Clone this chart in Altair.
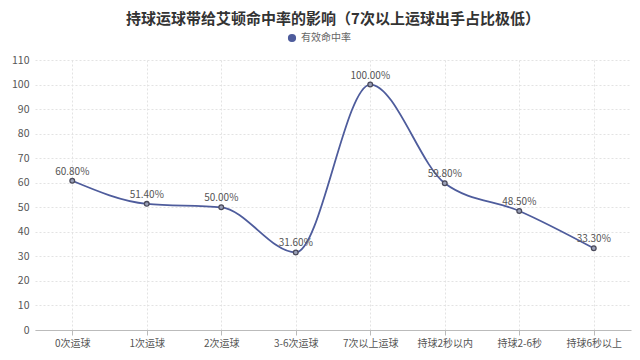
import altair as alt
import pandas as pd

categories = ["0次运球", "1次运球", "2次运球", "3-6次运球", "7次以上运球", "持球2秒以内", "持球2-6秒", "持球6秒以上"]
values = [60.8, 51.4, 50.0, 31.6, 100.0, 59.8, 48.5, 33.3]
series_name = "有效命中率"
y_ticks = list(range(0, 111, 10))

df = pd.DataFrame({"cat": categories, "val": values, "series": [series_name] * len(values)})
df["label"] = df["val"].map(lambda v: f"{v:.2f}%")

FONT = "Noto Sans CJK SC"
LINE = "#4e5c9c"
xscale = alt.Scale(paddingInner=0, paddingOuter=0)

x_main = alt.X("cat:N", sort=categories, title=None, scale=xscale,
               axis=alt.Axis(orient="bottom", labelAngle=0, labelFont=FONT, labelFontSize=10,
                             labelColor="#555", domainColor="#bbb", tickColor="#bbb", tickSize=5,
                             grid=False, labelPadding=3))
x_none = alt.X("cat:N", sort=categories, title=None, scale=xscale, axis=None)
x_grid = alt.X("cat:N", sort=categories, title=None, scale=xscale,
               axis=alt.Axis(orient="top", bandPosition=0, labels=False, ticks=False, domain=False,
                             grid=True, gridColor="#e3e3e3", gridDash=[2, 2], title=None))
y_main = alt.Y("val:Q", title=None,
               scale=alt.Scale(domain=[0, 110], nice=False),
               axis=alt.Axis(values=y_ticks, labelFont=FONT, labelFontSize=10.5, labelColor="#555",
                             domain=False, ticks=False, grid=True, gridColor="#e3e3e3",
                             gridDash=[2, 2], labelPadding=6))

grid_layer = alt.Chart(df).mark_point(opacity=0).encode(x=x_grid, y=y_main)

line = alt.Chart(df).mark_line(interpolate="monotone", strokeWidth=1.8).encode(
    x=x_main, y=y_main,
    color=alt.Color("series:N", scale=alt.Scale(range=[LINE]),
                    legend=alt.Legend(title=None, orient="none", legendX=252, legendY=-27,
                                      symbolType="circle", symbolSize=45, symbolFillColor=LINE,
                                      symbolStrokeColor=LINE, labelFont=FONT, labelFontSize=10,
                                      labelColor="#666")),
)

pts = alt.Chart(df).mark_point(filled=False, size=22, stroke="#4a4a5a", fill="#9aa0b8",
                               fillOpacity=1, strokeWidth=1.3).encode(x=x_none, y=y_main)

labels = alt.Chart(df).mark_text(dy=-9, font=FONT, fontSize=10, color="#555").encode(
    x=x_none, y=y_main, text="label:N")

chart = alt.layer(grid_layer, line, pts, labels).resolve_axis(x="independent").properties(
    width=596, height=270,
    autosize=alt.AutoSizeParams(type="none"),
    padding={"left": 27, "top": 52, "right": 1, "bottom": 18},
    title=alt.TitleParams("持球运球带给艾顿命中率的影响（7次以上运球出手占比极低）",
                          font=FONT, fontSize=15, fontWeight="bold", color="#333",
                          anchor="middle", offset=6),
).configure_view(stroke=None)

chart.save("out.html", embed_options={"renderer": "svg", "actions": False})
